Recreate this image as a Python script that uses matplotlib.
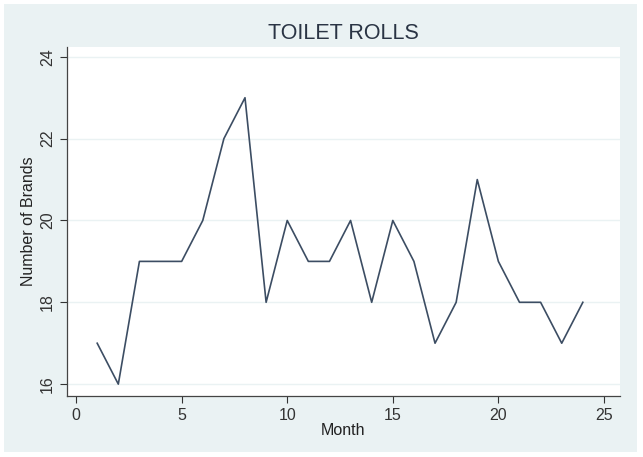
import matplotlib
matplotlib.use("Agg")
import matplotlib.pyplot as plt
from matplotlib.patches import Rectangle

plt.rcParams["font.family"] = ["Liberation Sans", "DejaVu Sans"]

months = list(range(1, 25))
brands = [17, 16, 19, 19, 19, 20, 22, 23, 18, 20, 19, 19,
          20, 18, 20, 19, 17, 18, 21, 19, 18, 18, 17, 18]
x_ticks = [0, 5, 10, 15, 20, 25]
y_ticks = [16, 18, 20, 22, 24]

fig = plt.figure(figsize=(6.43, 4.57), dpi=100, facecolor="white")
# light blue-grey backdrop of the graph region (Stata s2color look)
backdrop = Rectangle((4 / 643, 5 / 457), 633 / 643, 448 / 457,
                     transform=fig.transFigure, facecolor="#eaf2f3",
                     edgecolor="none", zorder=-10)
fig.add_artist(backdrop)

ax = fig.add_axes([67 / 643, 61 / 457, 553 / 643, 349 / 457])
ax.set_zorder(1)
ax.set_facecolor("white")
ax.plot(months, brands, color="#3c4d63", linewidth=1.2)

ax.set_xlim(-0.43, 25.76)
ax.set_ylim(15.71, 24.24)
ax.set_xticks(x_ticks)
ax.set_yticks(y_ticks)
ax.grid(axis="y", color="#eaf2f3", linewidth=1)
ax.set_axisbelow(True)

for side in ["top", "right"]:
    ax.spines[side].set_visible(False)
for side in ["left", "bottom"]:
    ax.spines[side].set_color("#444444")
    ax.spines[side].set_linewidth(0.9)

ax.tick_params(colors="#333333", labelsize=11.5, length=5, width=0.8)
plt.setp(ax.get_yticklabels(), rotation=90, va="center")

ax.set_xlabel("Month", fontsize=11.5, color="#222222", labelpad=0)
ax.set_ylabel("Number of Brands", fontsize=11.5, color="#222222", labelpad=3)
ax.set_title("TOILET ROLLS", fontsize=15.5, color="#2a3444", pad=6)

fig.savefig("out.png", dpi=100, facecolor=fig.get_facecolor())
